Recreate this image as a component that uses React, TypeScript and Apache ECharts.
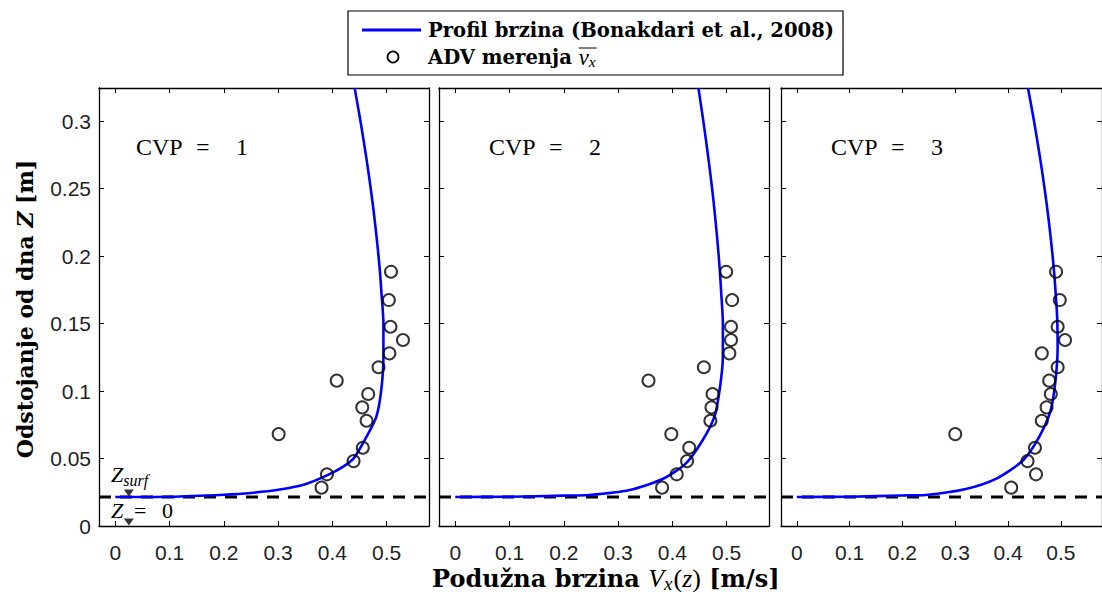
import React, { useEffect, useRef } from 'react';
import * as echarts from 'echarts';

// ---------- data ----------
const X_TICKS = [0, 0.1, 0.2, 0.3, 0.4, 0.5];
const Y_TICKS = [0, 0.05, 0.1, 0.15, 0.2, 0.25, 0.3];
const X_MIN = -0.03;
const X_MAX = 0.578;
const Y_MIN = 0;
const Y_MAX = 0.3245;
const Z_SURF = 0.0215;

const Z_MEAS = [0.0284, 0.0383, 0.0481, 0.058, 0.0681, 0.078, 0.0879, 0.0978, 0.1077, 0.1176, 0.1279, 0.1378, 0.1476, 0.1674, 0.1884];
const ADV_CVP1 = [0.380, 0.390, 0.439, 0.456, 0.301, 0.463, 0.455, 0.466, 0.408, 0.485, 0.505, 0.530, 0.507, 0.504, 0.508];
const ADV_CVP2 = [0.381, 0.408, 0.427, 0.431, 0.398, 0.470, 0.472, 0.474, 0.356, 0.458, 0.505, 0.508, 0.508, 0.510, 0.499];
const ADV_CVP3 = [0.406, 0.453, 0.437, 0.451, 0.300, 0.464, 0.473, 0.481, 0.478, 0.494, 0.464, 0.508, 0.494, 0.498, 0.491];

const PROF_CVP1_V = [0, 0.1, 0.2, 0.25, 0.3, 0.35, 0.39, 0.42, 0.44, 0.463, 0.481, 0.490, 0.494, 0.494, 0.490, 0.4878, 0.4851, 0.482, 0.4784, 0.4736, 0.4672, 0.4605, 0.4517, 0.441];
const PROF_CVP1_Z = [0.0215, 0.0217, 0.0232, 0.0245, 0.0268, 0.031, 0.0375, 0.044, 0.0505, 0.0662, 0.081, 0.1007, 0.1254, 0.150, 0.175, 0.1875, 0.1995, 0.212, 0.225, 0.241, 0.26, 0.278, 0.300, 0.3245];
const PROF_CVP2_V = [0, 0.1, 0.2, 0.247, 0.321, 0.382, 0.425, 0.456, 0.4775, 0.487, 0.493, 0.493, 0.4896, 0.4877, 0.4854, 0.4828, 0.4797, 0.4757, 0.4702, 0.4645, 0.457, 0.448];
const PROF_CVP2_Z = [0.0215, 0.0217, 0.0225, 0.023, 0.0267, 0.0348, 0.0464, 0.0637, 0.081, 0.1007, 0.1254, 0.150, 0.175, 0.1875, 0.1995, 0.212, 0.225, 0.241, 0.26, 0.278, 0.300, 0.3245];
const PROF_CVP3_V = [0, 0.1, 0.2, 0.244, 0.318, 0.379, 0.429, 0.459, 0.481, 0.490, 0.494, 0.493, 0.4898, 0.4874, 0.4846, 0.4813, 0.4775, 0.4724, 0.4656, 0.4585, 0.4492, 0.4378];
const PROF_CVP3_Z = [0.0215, 0.0217, 0.0226, 0.023, 0.0272, 0.0353, 0.0489, 0.066, 0.086, 0.108, 0.133, 0.155, 0.175, 0.1875, 0.1995, 0.212, 0.225, 0.241, 0.26, 0.278, 0.300, 0.3245];

const PANEL_LABELS = ['CVP = 1', 'CVP = 2', 'CVP = 3'];
const MARKER_V = 0.025;
const MARKER_Z = [Z_SURF, 0];

const LEGEND_LINE = 'Profil brzina (Bonakdari et al., 2008)';
const LEGEND_ADV = 'ADV merenja ';

// ---------- layout ----------
const GRID_LEFT = [99, 439, 781];
const GRID_TOP = 88;
const GRID_W = 330;
const GRID_H = 438;

const BOLD_FAMILY = '"DejaVu Serif"';
const MATH_FAMILY = '"Liberation Serif"';
const SANS = '"Liberation Sans", Arial, sans-serif';

type Seg = { t: string; size: number; weight?: string; fstyle?: string; family?: string; dy?: number; gap?: number };
const cssFont = (s: Seg) => `${s.fstyle || 'normal'} ${s.weight || 'normal'} ${s.size}px ${s.family || MATH_FAMILY}`;

let ctx2d: CanvasRenderingContext2D | null = null;
function textWidth(t: string, font: string) {
  if (!ctx2d) ctx2d = document.createElement('canvas').getContext('2d');
  if (!ctx2d) return t.length * 8;
  ctx2d.font = font;
  return ctx2d.measureText(t).width;
}
function segWidth(segs: Seg[]) {
  return segs.reduce((a, s) => a + textWidth(s.t, cssFont(s)) + (s.gap || 0), 0);
}
function runs(segs: Seg[], x0: number, y: number) {
  let x = x0;
  return segs.map((s) => {
    const el = {
      type: 'text',
      x,
      y: y + (s.dy || 0),
      silent: true,
      style: { text: s.t, font: cssFont(s), fill: '#000', align: 'left', verticalAlign: 'middle' },
    };
    x += textWidth(s.t, cssFont(s)) + (s.gap || 0);
    return el;
  });
}

const zip = (a: number[], b: number[]) => a.map((v, i) => [v, b[i]]);

export default function App() {
  const ref = useRef<HTMLDivElement>(null);
  useEffect(() => {
    if (!ref.current) return;
    const chart = echarts.init(ref.current, undefined, { renderer: 'svg' });

    const B = (t: string, size: number, extra: Partial<Seg> = {}): Seg => ({ t, size, weight: 'bold', family: BOLD_FAMILY, ...extra });

    const xAxes: any[] = [];
    const yAxes: any[] = [];
    const axisLine = { show: true, onZero: false, lineStyle: { color: '#000', width: 1.3 } };
    const tick = (vals: number[]) => ({ show: true, inside: true, length: 5, customValues: vals, lineStyle: { color: '#000', width: 1 } });
    GRID_LEFT.forEach((_, i) => {
      xAxes.push({
        type: 'value', gridIndex: i, position: 'bottom', min: X_MIN, max: X_MAX,
        splitLine: { show: false }, axisLine, axisTick: tick(X_TICKS),
        axisLabel: { show: true, customValues: X_TICKS, margin: 16, fontFamily: SANS, fontSize: 21, color: '#222', formatter: (v: number) => String(v) },
      });
      xAxes.push({
        type: 'value', gridIndex: i, position: 'top', min: X_MIN, max: X_MAX,
        splitLine: { show: false }, axisLine, axisTick: tick(X_TICKS), axisLabel: { show: false },
      });
      yAxes.push({
        type: 'value', gridIndex: i, position: 'left', min: Y_MIN, max: Y_MAX,
        splitLine: { show: false }, axisLine, axisTick: tick(Y_TICKS),
        axisLabel: { show: i === 0, customValues: Y_TICKS, margin: 8, fontFamily: SANS, fontSize: 21, color: '#222', formatter: (v: number) => String(v) },
      });
      yAxes.push({
        type: 'value', gridIndex: i, position: 'right', min: Y_MIN, max: Y_MAX,
        splitLine: { show: false }, axisLine, axisTick: tick(Y_TICKS), axisLabel: { show: false },
      });
    });

    const profiles = [zip(PROF_CVP1_V, PROF_CVP1_Z), zip(PROF_CVP2_V, PROF_CVP2_Z), zip(PROF_CVP3_V, PROF_CVP3_Z)];
    const advs = [zip(ADV_CVP1, Z_MEAS), zip(ADV_CVP2, Z_MEAS), zip(ADV_CVP3, Z_MEAS)];

    const series: any[] = [];
    GRID_LEFT.forEach((_, i) => {
      series.push({
        type: 'line', name: 'Z_surf', xAxisIndex: 2 * i, yAxisIndex: 2 * i,
        data: [[X_MIN, Z_SURF], [X_MAX, Z_SURF]], symbol: 'none', silent: true, z: 1,
        lineStyle: { color: '#000', width: 3, type: [12, 9] },
      });
      series.push({
        type: 'line', name: LEGEND_LINE, xAxisIndex: 2 * i, yAxisIndex: 2 * i,
        data: profiles[i], symbol: 'none', smooth: 0.25, z: 2,
        lineStyle: { color: '#0000ff', width: 2.6 },
      });
      series.push({
        type: 'scatter', name: 'ADV merenja', xAxisIndex: 2 * i, yAxisIndex: 2 * i,
        data: advs[i], symbol: 'circle', symbolSize: 12, z: 3,
        itemStyle: { color: 'rgba(255,255,255,0)', borderColor: '#000', borderWidth: 2 },
      });
    });
    series.push({
      type: 'scatter', name: 'markers', xAxisIndex: 0, yAxisIndex: 0, clip: false, z: 4,
      data: MARKER_Z.map((z) => [MARKER_V, z]),
      symbol: 'path://M0,0L10,0L5,8Z', symbolSize: [10, 7], symbolOffset: [0, -4],
      itemStyle: { color: '#000' },
    });

    const graphic: any[] = [];
    // legend box
    const LS = 19.6;
    graphic.push({ type: 'rect', shape: { x: 348, y: 11, width: 495, height: 64 }, style: { fill: '#fff', stroke: '#000', lineWidth: 1.2 }, z: 10 });
    graphic.push({ type: 'line', shape: { x1: 362, y1: 30, x2: 421, y2: 30 }, style: { stroke: '#0000ff', lineWidth: 3 }, z: 11 });
    graphic.push({ type: 'circle', shape: { cx: 393, cy: 57, r: 5.5 }, style: { fill: 'none', stroke: '#000', lineWidth: 1.8 }, z: 11 });
    graphic.push(...runs([B(LEGEND_LINE, LS)], 428, 30).map((e) => ({ ...e, z: 11 })));
    const advSegs: Seg[] = [
      B(LEGEND_ADV, LS),
      { t: 'v', size: LS + 3, fstyle: 'italic' },
      { t: 'x', size: LS - 4, fstyle: 'italic', dy: 4 },
    ];
    graphic.push(...runs(advSegs, 428, 57).map((e) => ({ ...e, z: 11 })));
    const vx0 = 428 + textWidth(LEGEND_ADV, cssFont(advSegs[0]));
    const vx1 = vx0 + textWidth('v', cssFont(advSegs[1])) + textWidth('x', cssFont(advSegs[2]));
    graphic.push({ type: 'line', shape: { x1: vx0, y1: 48, x2: vx1 + 1, y2: 48 }, style: { stroke: '#000', lineWidth: 1 }, z: 11 });

    // panel labels
    const labelOffsets = [37, 50, 50];
    PANEL_LABELS.forEach((lab, i) => {
      const [a, , c] = lab.split(' ');
      const x0 = GRID_LEFT[i] + labelOffsets[i];
      graphic.push(...runs([{ t: a, size: 24 }], x0, 147));
      graphic.push(...runs([{ t: '=', size: 24 }], x0 + 60, 147));
      graphic.push({ type: 'text', x: x0 + 106, y: 147, silent: true, style: { text: c, font: cssFont({ t: c, size: 24 }), fill: '#000', align: 'center', verticalAlign: 'middle' } });
    });

    // Z_surf / Z = 0 annotations
    graphic.push(...runs([{ t: 'Z', size: 22, fstyle: 'italic' }, { t: 'surf', size: 16, fstyle: 'italic', dy: 6 }], 111, 474));
    graphic.push(...runs([{ t: 'Z', size: 22, fstyle: 'italic' }], 111, 510));
    graphic.push(...runs([{ t: '=', size: 22 }], 134, 510));
    graphic.push(...runs([{ t: '0', size: 22 }], 162, 510));

    // x axis title
    const XS = 24;
    const xt: Seg[] = [
      B('Podužna brzina ', XS),
      { t: 'V', size: XS + 2, fstyle: 'italic' },
      { t: 'x', size: XS - 5, fstyle: 'italic', dy: 5, gap: 1 },
      { t: '(', size: XS + 2 },
      { t: 'z', size: XS + 2, fstyle: 'italic' },
      { t: ')', size: XS + 2 },
      B(' [m/s]', XS),
    ];
    graphic.push(...runs(xt, 432, 578));

    // y axis title (rotated)
    const YS = 22;
    const yt: Seg[] = [B('Odstojanje od dna ', YS), B('Z', YS, { fstyle: 'italic' }), B(' [m]', YS)];
    const ytw = segWidth(yt);
    graphic.push({ type: 'group', x: 25, y: 309, rotation: Math.PI / 2, children: runs(yt, -ytw / 2, 0) });

    chart.setOption({
      animation: false,
      backgroundColor: '#fff',
      grid: GRID_LEFT.map((l) => ({ left: l, top: GRID_TOP, width: GRID_W, height: GRID_H })),
      xAxis: xAxes,
      yAxis: yAxes,
      series,
      graphic,
    });
    return () => chart.dispose();
  }, []);
  return <div ref={ref} style={{ position: 'absolute', left: 0, top: 0, width: 1102, height: 592 }} />;
}
